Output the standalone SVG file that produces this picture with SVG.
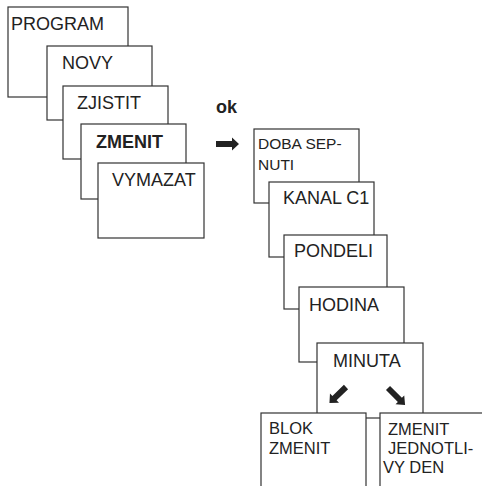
<svg xmlns="http://www.w3.org/2000/svg" width="482" height="486" viewBox="0 0 482 486">
<defs>
<style>
.box{fill:#fff;stroke:#333;stroke-width:1.2}
.t{font-family:"Liberation Sans",Arial,sans-serif;font-size:18px;fill:#222}
.s{font-family:"Liberation Sans",Arial,sans-serif;font-size:16.5px;fill:#222}
.d{font-family:"Liberation Sans",Arial,sans-serif;font-size:15.5px;fill:#222}
.b{font-weight:bold}
.arr{fill:#222}
</style>
<polygon id="arrow" points="0,-3 16,-3 16,-6.5 23,0 16,6.5 16,3 0,3"/>
</defs>
<rect width="482" height="486" fill="#fff"/>
<g id="n-program"><rect class="box" x="8" y="7" width="120" height="90"/><text class="t" x="11" y="30">PROGRAM</text></g>
<g id="n-novy"><rect class="box" x="47" y="46" width="105" height="74"/><text class="t" x="62" y="69">NOVY</text></g>
<g id="n-zjistit"><rect class="box" x="63" y="86" width="105" height="73"/><text class="t" x="77" y="109">ZJISTIT</text></g>
<g id="n-zmenit"><rect class="box" x="81" y="124" width="105" height="75"/><text class="t b" x="96" y="148">ZMENIT</text></g>
<g id="n-vymazat"><rect class="box" x="98" y="163" width="106" height="75"/><text class="t" x="112" y="186">VYMAZAT</text></g>
<g id="n-ok"><text class="t b" x="216" y="113">ok</text></g>
<g id="n-doba"><rect class="box" x="254" y="129" width="105" height="74"/><text class="d" x="258" y="149">DOBA SEP-</text><text class="d" x="258" y="170">NUTI</text></g>
<g id="n-kanal"><rect class="box" x="269" y="182" width="105" height="75"/><text class="t" x="283" y="204">KANAL C1</text></g>
<g id="n-pondeli"><rect class="box" x="284" y="235" width="103" height="74"/><text class="t" x="294" y="257">PONDELI</text></g>
<g id="n-hodina"><rect class="box" x="299" y="287" width="105" height="75"/><text class="t" x="309" y="311">HODINA</text></g>
<g id="n-minuta"><rect class="box" x="317" y="343" width="106" height="75"/><text class="t" x="333" y="367">MINUTA</text></g>
<g id="n-blok"><rect class="box" x="261" y="413" width="105" height="90"/><text class="s" x="269" y="434">BLOK</text><text class="s" x="269" y="454">ZMENIT</text></g>
<g id="n-jednotlivy"><rect class="box" x="380" y="413" width="120" height="90"/><text class="s" x="388" y="435">ZMENIT</text><text class="s" x="388" y="454">JEDNOTLI-</text><text class="s" x="383" y="473">VY DEN</text></g>
<g id="connectors">
<use href="#arrow" class="arr" transform="translate(216,144)"/>
<use href="#arrow" class="arr" transform="translate(346,387) rotate(136)"/>
<use href="#arrow" class="arr" transform="translate(388,388) rotate(45) scale(1.05,0.95)"/>
</g>
</svg>
